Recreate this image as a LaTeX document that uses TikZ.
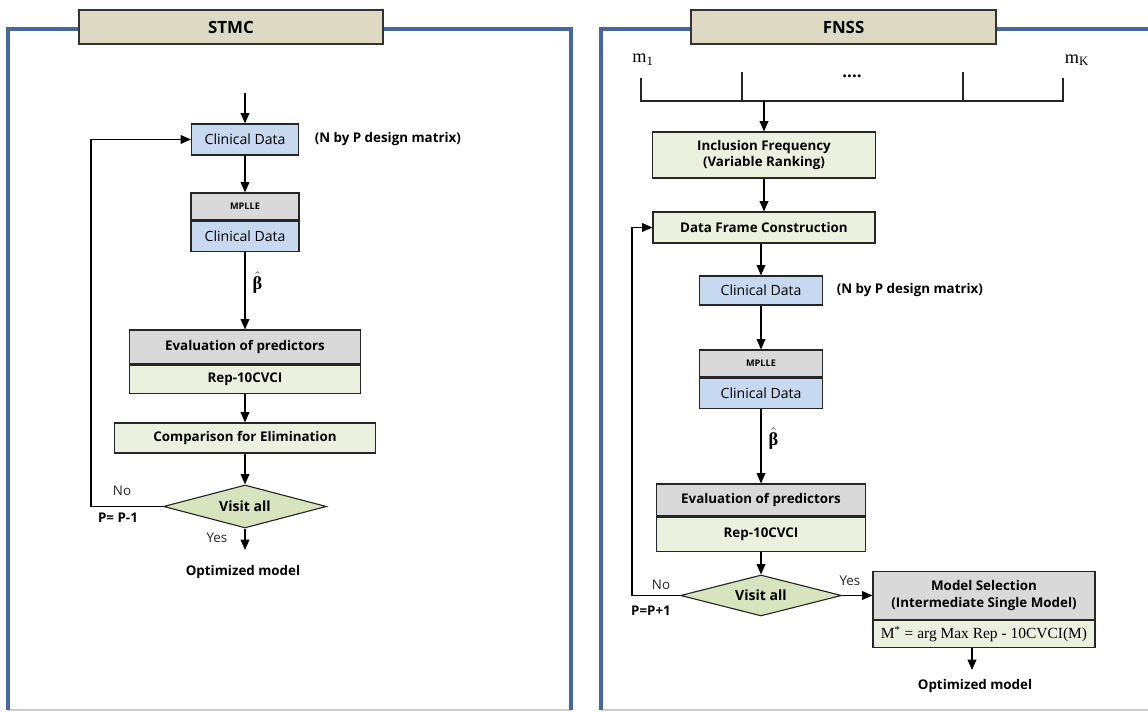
\documentclass[tikz,border=0pt]{standalone}
\usepackage{fontspec}
\usepackage{amsmath}
\setmainfont{Open Sans}
\newfontfamily\timesfont{Liberation Serif}
\usetikzlibrary{positioning,shapes.geometric,arrows.meta}
\definecolor{paneledge}{RGB}{70,104,156}
\definecolor{titletan}{RGB}{221,217,195}
\definecolor{datablue}{RGB}{198,217,241}
\definecolor{headgray}{RGB}{217,217,217}
\definecolor{palegreen}{RGB}{235,241,222}
\definecolor{visitgreen}{RGB}{215,228,189}
\newcommand{\betahat}{$\hat{\mbox{\timesfont\bfseries β}}$}
\tikzset{
  panel/.style={line width=2.2pt, draw=paneledge},
  panelfoot/.style={line width=1pt, draw=black!20},
  titlebox/.style={draw=black!80, line width=1pt, fill=titletan, minimum width=7.6cm, minimum height=0.85cm, font=\bfseries\fontsize{12}{14}\selectfont},
  databox/.style={draw=black!85, line width=0.8pt, fill=datablue, minimum height=0.75cm, font=\fontsize{10}{12}\selectfont},
  headbox/.style={draw=black!85, line width=0.8pt, fill=headgray, align=center, font=\bfseries\fontsize{9.5}{11.5}\selectfont},
  stepbox/.style={draw=black!85, line width=0.8pt, fill=palegreen, align=center, font=\bfseries\fontsize{9.5}{11.5}\selectfont},
  decision/.style={diamond, aspect=3.8, draw=black!85, line width=0.8pt, fill=visitgreen, inner sep=0pt, font=\bfseries\fontsize{10}{12}\selectfont},
  arr/.style={-{Triangle[length=2.6mm,width=2.2mm]}, line width=0.9pt},
  bracket/.style={line width=0.8pt, draw=black!85},
  note/.style={inner sep=1pt, font=\bfseries\fontsize{9.5}{11.5}\selectfont},
  answer/.style={inner sep=1pt, text=black!85, font=\fontsize{9.5}{11.5}\selectfont},
  mlabel/.style={inner sep=1pt, font=\timesfont\fontsize{13}{15}\selectfont},
  betalabel/.style={inner sep=1pt, font=\fontsize{13}{15}\selectfont},
}

\begin{document}
\begin{tikzpicture}
\useasboundingbox (0,0) rectangle (28.700,17.800);
% STMC panel
\draw[panelfoot] (0.200,0.050) -- (14.275,0.050);
\draw[panel] (0.200,0.050) -- (0.200,17.075) -- (14.275,17.075) -- (14.275,0.050);
\node[titlebox] (stmc) at (5.775,17.125) {STMC};
\coordinate (startA) at (6.125,15.475);
\node[databox, minimum width=2.675cm, minimum height=0.775cm] (cdA) at (6.125,14.313) {Clinical Data};
\node[note, right=0.35cm of cdA] (sizeA) {(N by P design matrix)};
\node[headbox, minimum width=2.7cm, minimum height=0.675cm, font=\bfseries\fontsize{6.5}{8}\selectfont] (mplleA) at (6.125,12.638) {MPLLE};
\node[databox, minimum width=2.7cm, below=0pt of mplleA] (cdB) {Clinical Data};
\node[headbox, minimum width=5.775cm, minimum height=0.85cm] (evalA) at (6.125,9.125) {Evaluation of predictors};
\node[stepbox, minimum width=5.775cm, minimum height=0.7cm, below=0pt of evalA] (repA) {Rep-10CVCI};
\node[stepbox, minimum width=6.525cm, minimum height=0.75cm] (cmpA) at (6.125,6.850) {Comparison for Elimination};
\node[decision, minimum width=4.075cm, minimum height=1.075cm] (visitA) at (6.125,5.138) {Visit all};
\coordinate (loopA) at (2.275,5.138);
\coordinate (endA) at (6.125,4.050);
\node[answer] (noA) at (3.050,5.525) {No};
\node[note] (stepA) at (2.950,4.850) {P= P-1};
\node[answer] (yesA) at (5.425,4.350) {Yes};
\node[note] (optA) at (6.075,3.500) {Optimized model};
\draw[arr] (startA) -- (cdA);
\draw[arr] (cdA) -- (mplleA);
\draw[arr] (cdB) -- node[betalabel, right=4pt, pos=0.4] {\betahat} (evalA);
\draw[arr] (repA) -- (cmpA);
\draw[arr] (cmpA) -- (visitA);
\draw[arr, line width=0.8pt] (visitA.west) -- (loopA) |- (cdA.west);
\draw[arr] (visitA) -- (endA);
% FNSS panel
\draw[panelfoot] (15.025,0.050) -- (28.750,0.050);
\draw[panel] (15.025,0.050) -- (15.025,17.075) -- (28.750,17.075);
\node[titlebox, minimum width=7.625cm] (fnss) at (21.088,17.125) {FNSS};
\node[mlabel] (mfirst) at (16.075,16.300) {m\textsubscript{1}};
\node[mlabel] (mlast) at (26.925,16.300) {m\textsubscript{K}};
\node[note, font=\bfseries\fontsize{12}{14}\selectfont] (dotsB) at (21.300,15.900) {....};
\draw[bracket] (16.025,15.850) -- (16.025,15.275) -- (26.575,15.275) -- (26.575,15.850);
\draw[bracket] (18.550,16.000) -- (18.550,15.275);
\draw[bracket] (24.075,16.000) -- (24.075,15.275);
\coordinate (joinB) at (19.100,15.275);
\node[stepbox, minimum width=5.575cm, minimum height=1.15cm] (incB) at (19.100,13.925) {Inclusion Frequency\\(Variable Ranking)};
\node[stepbox, minimum width=5.55cm, minimum height=0.775cm] (dfB) at (19.100,12.113) {Data Frame Construction};
\node[databox, minimum width=3.075cm, minimum height=0.725cm] (cdC) at (19.025,10.538) {Clinical Data};
\node[note, right=0.3cm of cdC] (sizeB) {(N by P design matrix)};
\node[headbox, minimum width=3.075cm, minimum height=0.675cm, font=\bfseries\fontsize{6.5}{8}\selectfont] (mplleB) at (19.025,8.713) {MPLLE};
\node[databox, minimum width=3.075cm, below=0pt of mplleB] (cdD) {Clinical Data};
\node[headbox, minimum width=5.225cm, minimum height=0.8cm] (evalB) at (19.025,5.300) {Evaluation of predictors};
\node[stepbox, minimum width=5.225cm, minimum height=0.85cm, below=0pt of evalB] (repB) {Rep-10CVCI};
\node[decision, minimum width=4.025cm, minimum height=1.025cm] (visitB) at (19.025,2.913) {Visit all};
\coordinate (loopB) at (15.800,2.913);
\node[answer] (noB) at (16.525,3.175) {No};
\node[note] (stepB) at (16.275,2.525) {P=P+1};
\node[answer] (yesB) at (21.250,3.275) {Yes};
\node[headbox, minimum width=5.55cm, minimum height=1.2cm] (selB) at (24.600,2.913) {Model Selection\\(Intermediate Single Model)};
\node[stepbox, minimum width=5.55cm, minimum height=0.675cm, below=0pt of selB, font=\timesfont\fontsize{11}{13}\selectfont] (argB) {M\textsuperscript{*} = arg Max Rep - 10CVCI(M)};
\coordinate (endB) at (24.300,1.050);
\node[note] (optB) at (24.375,0.650) {Optimized model};
\draw[arr] (joinB) -- (incB);
\draw[arr] (incB) -- (dfB);
\draw[arr] (cdC.north |- dfB.south) -- (cdC.north);
\draw[arr] (cdC) -- (mplleB);
\draw[arr] (cdD) -- node[betalabel, right=4pt, pos=0.4] {\betahat} (evalB);
\draw[arr] (repB) -- (visitB);
\draw[arr, line width=0.8pt] (visitB.west) -- (loopB) |- (dfB.west);
\draw[arr] (visitB) -- (selB);
\draw[arr] (argB.south -| endB) -- (endB);
\end{tikzpicture}
\end{document}
